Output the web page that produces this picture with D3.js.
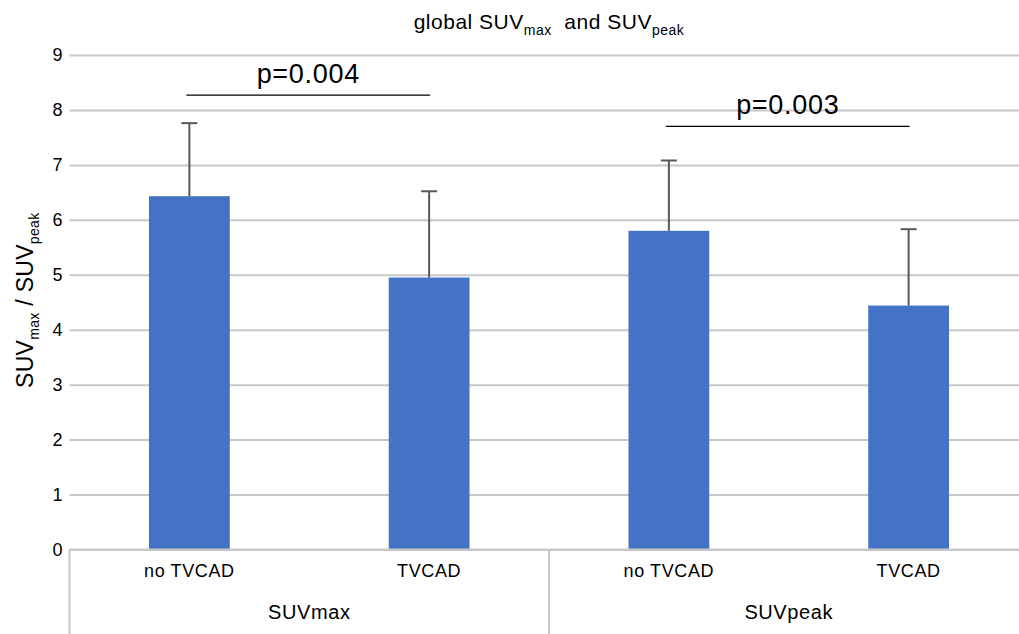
<!DOCTYPE html>
<html>
<head>
<meta charset="utf-8">
<script src="https://cdn.jsdelivr.net/npm/d3@7"></script>
<style>
  html, body { margin: 0; padding: 0; background: #fff; }
  svg { display: block; font-family: "Liberation Sans", Arial, sans-serif; }
</style>
</head>
<body>
<div id="chart"></div>
<script>
// data
var groups = ['SUVmax', 'SUVpeak'];
var categories = ['no TVCAD', 'TVCAD', 'no TVCAD', 'TVCAD'];
var barGroup = ['SUVmax', 'SUVmax', 'SUVpeak', 'SUVpeak'];
var means = [6.43, 4.95, 5.80, 4.44];
var errors = [1.33, 1.57, 1.28, 1.39];
var yTicks = [0, 1, 2, 3, 4, 5, 6, 7, 8, 9];
var pLabels = ['p=0.004', 'p=0.003'];
var pLevels = [8.27, 7.70];
var pPairs = [[0, 1], [2, 3]];

var width = 1019, height = 634;
var margin = { top: 55, left: 69.5, bottom: 84, plotRight: 1028.5 };

var svg = d3.select('#chart')
            .append('svg')
            .attr('width', width)
            .attr('height', height);

var idx = d3.range(categories.length);

var x = d3.scaleBand()
          .domain(idx)
          .range([margin.left, margin.plotRight])
          .paddingInner(0.663)
          .paddingOuter(0.3315);

var xBand = d3.scaleBand()
              .domain(idx)
              .range([margin.left, margin.plotRight]);

var y = d3.scaleLinear()
          .domain([0, 9])
          .range([height - margin.bottom - 0.5, margin.top]);

// gridlines + tick labels
var yAxis = d3.axisLeft(y)
              .tickValues(yTicks)
              .tickSize(-(margin.plotRight - margin.left))
              .tickPadding(7);

var gy = svg.append('g')
            .attr('transform', 'translate(' + margin.left + ',0)')
            .call(yAxis);
gy.select('.domain').remove();
gy.selectAll('.tick line')
  .attr('stroke', '#c8c8c8')
  .attr('stroke-width', 2);
gy.selectAll('.tick text')
  .attr('fill', '#000')
  .attr('font-size', 18);

// bars
svg.append('g')
   .selectAll('rect')
   .data(idx)
   .enter()
   .append('rect')
   .attr('x', function(i) { return x(i); })
   .attr('y', function(i) { return y(means[i]); })
   .attr('width', x.bandwidth())
   .attr('height', function(i) { return y(0) - y(means[i]); })
   .attr('fill', '#4472c4');

// error bars (upper only)
var eb = svg.append('g')
            .attr('stroke', '#595959')
            .attr('stroke-width', 2);
idx.forEach(function(i) {
  var cx = x(i) + x.bandwidth() / 2;
  eb.append('line')
    .attr('x1', cx).attr('x2', cx)
    .attr('y1', y(means[i])).attr('y2', y(means[i] + errors[i]));
  eb.append('line')
    .attr('x1', cx - 8).attr('x2', cx + 8)
    .attr('y1', y(means[i] + errors[i])).attr('y2', y(means[i] + errors[i]));
});

// category axis lines
var base = y(0);
var axisLines = svg.append('g')
                   .attr('stroke', '#c8c8c8')
                   .attr('stroke-width', 2);
axisLines.append('line')
         .attr('x1', margin.left).attr('x2', margin.plotRight)
         .attr('y1', base).attr('y2', base);
[0, 2, 4].forEach(function(i) {
  var lx = i < 4 ? xBand(i) : margin.plotRight;
  axisLines.append('line')
           .attr('x1', lx).attr('x2', lx)
           .attr('y1', base).attr('y2', height);
});

// category labels
svg.append('g')
   .selectAll('text')
   .data(idx)
   .enter()
   .append('text')
   .attr('x', function(i) { return xBand(i) + xBand.bandwidth() / 2; })
   .attr('y', base + 27)
   .attr('text-anchor', 'middle')
   .attr('font-size', 18)
   .attr('letter-spacing', 0.6)
   .text(function(i) { return categories[i]; });

// group labels
svg.append('g')
   .selectAll('text')
   .data(groups)
   .enter()
   .append('text')
   .attr('x', function(g) {
     var members = idx.filter(function(i) { return barGroup[i] === g; });
     var a = xBand(members[0]);
     var b = xBand(members[members.length - 1]) + xBand.bandwidth();
     return (a + b) / 2;
   })
   .attr('y', base + 69)
   .attr('text-anchor', 'middle')
   .attr('font-size', 20)
   .attr('letter-spacing', 0.6)
   .text(function(g) { return g; });

// significance brackets
pLabels.forEach(function(lbl, k) {
  var a = x(pPairs[k][0]) + x.bandwidth() / 2 - 3;
  var b = x(pPairs[k][1]) + x.bandwidth() / 2 + 1;
  var ly = y(pLevels[k]);
  svg.append('line')
     .attr('x1', a).attr('x2', b)
     .attr('y1', ly).attr('y2', ly)
     .attr('stroke', '#000')
     .attr('stroke-width', 1.3);
  svg.append('text')
     .attr('x', (a + b) / 2)
     .attr('y', ly - 12)
     .attr('text-anchor', 'middle')
     .attr('font-size', 27)
     .attr('letter-spacing', 0.7)
     .text(lbl);
});

// title
var title = svg.append('text')
               .attr('x', (margin.left + margin.plotRight) / 2)
               .attr('y', 29)
               .attr('text-anchor', 'middle')
               .attr('font-size', 21)
               .attr('letter-spacing', 0.5);
title.append('tspan').text('global SUV');
title.append('tspan').attr('font-size', 14).attr('dy', 6).text('max');
title.append('tspan').attr('dy', -6).text('\u00a0 and SUV');
title.append('tspan').attr('font-size', 14).attr('dy', 6).text('peak');

// y axis label
var ylab = svg.append('text')
              .attr('transform', 'translate(33,' + ((y(0) + y(9)) / 2 - 2) + ') rotate(-90)')
              .attr('text-anchor', 'middle')
              .attr('font-size', 23)
              .attr('letter-spacing', 0.3);
ylab.append('tspan').text('SUV');
ylab.append('tspan').attr('font-size', 14).attr('dy', 6).text('max');
ylab.append('tspan').attr('dy', -6).text(' / SUV');
ylab.append('tspan').attr('font-size', 14).attr('dy', 6).text('peak');
</script>
</body>
</html>
